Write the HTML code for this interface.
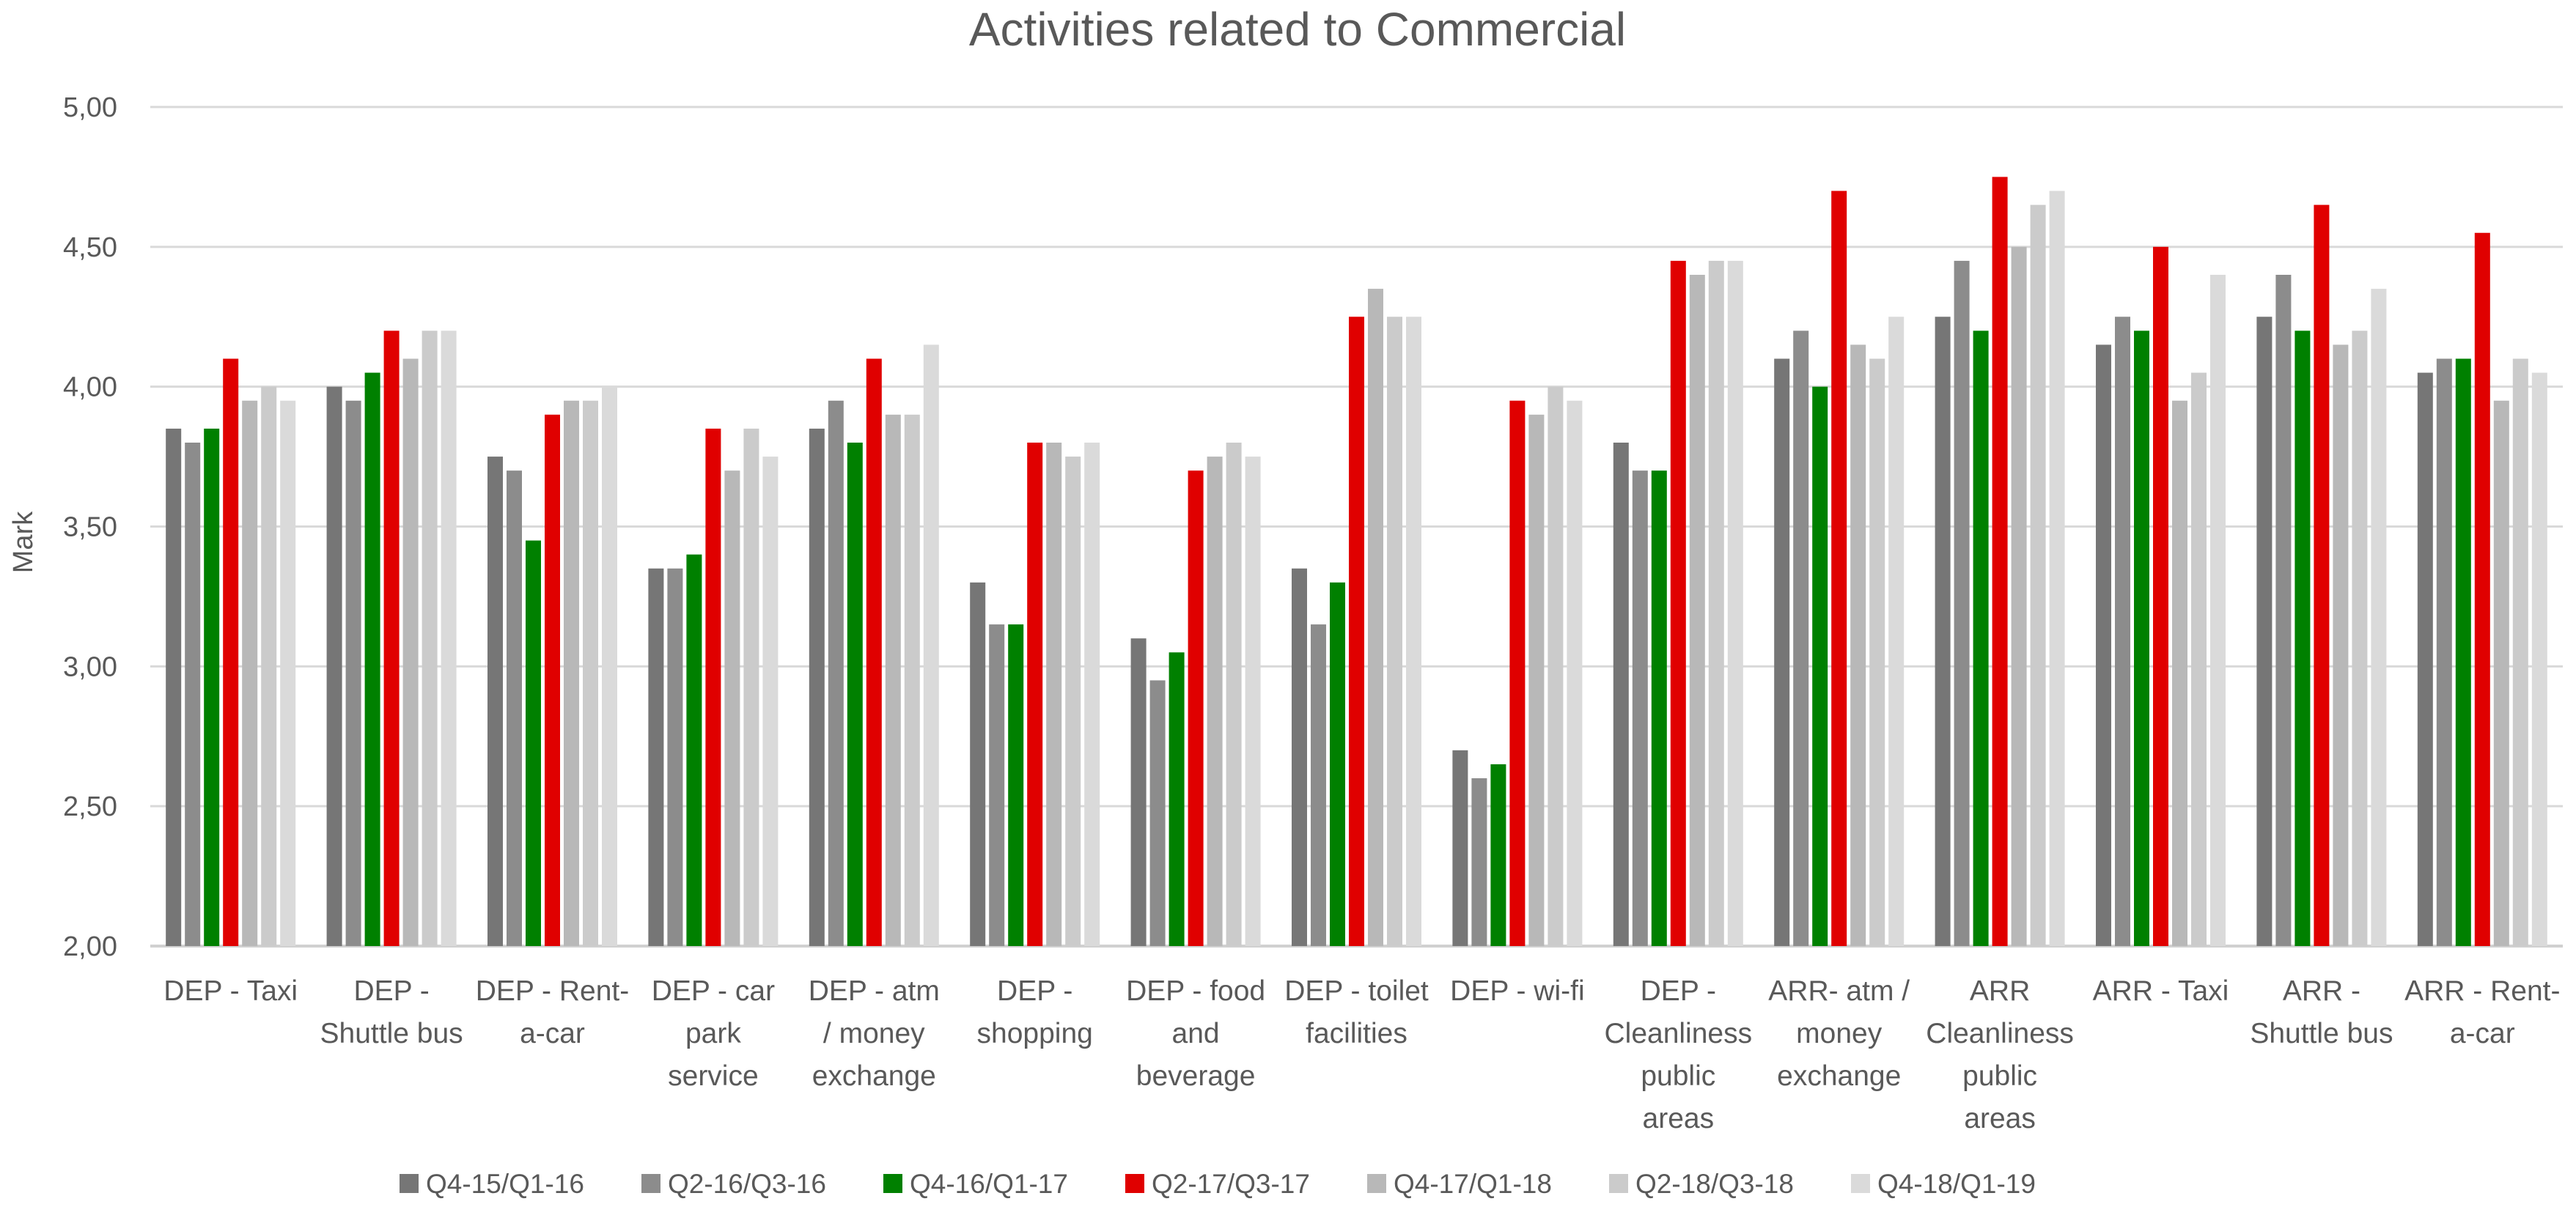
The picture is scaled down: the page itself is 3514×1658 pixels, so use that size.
<!DOCTYPE html>
<html><head><meta charset="utf-8">
<style>
html,body{margin:0;padding:0;background:#fff;}
svg{display:block;font-family:"Liberation Sans Narrow","Liberation Sans",sans-serif;}
</style></head>
<body>
<svg id="chart" width="3514" height="1658" viewBox="0 0 3514 1658" xmlns="http://www.w3.org/2000/svg">
<rect width="3514" height="1658" fill="#fff"/>
<text x="1770" y="62" font-size="64" fill="#595959" text-anchor="middle">Activities related to Commercial</text>
<text transform="translate(44,740) rotate(-90)" font-size="38" fill="#595959" text-anchor="middle">Mark</text>
<g id="grid"></g><g id="bars"></g><g id="xlabels"></g><g id="legend"></g>
</svg>
<script>
const categories = [
 ["DEP - Taxi"],["DEP -","Shuttle bus"],["DEP - Rent-","a-car"],["DEP - car","park","service"],
 ["DEP - atm","/ money","exchange"],["DEP -","shopping"],["DEP - food","and","beverage"],
 ["DEP - toilet","facilities"],["DEP -  wi-fi"],["DEP -","Cleanliness","public","areas"],
 ["ARR- atm  /","money","exchange"],["ARR","Cleanliness","public","areas"],["ARR - Taxi"],
 ["ARR -","Shuttle bus"],["ARR - Rent-","a-car"]
];
const seriesNames = ["Q4-15/Q1-16","Q2-16/Q3-16","Q4-16/Q1-17","Q2-17/Q3-17","Q4-17/Q1-18","Q2-18/Q3-18","Q4-18/Q1-19"];
const seriesColors = ["#767676","#8c8c8c","#008000","#e00000","#b8b8b8","#cbcbcb","#dadada"];
const s1 = [3.85,4.00,3.75,3.35,3.85,3.30,3.10,3.35,2.70,3.80,4.10,4.25,4.15,4.25,4.05];
const s2 = [3.80,3.95,3.70,3.35,3.95,3.15,2.95,3.15,2.60,3.70,4.20,4.45,4.25,4.40,4.10];
const s3 = [3.85,4.05,3.45,3.40,3.80,3.15,3.05,3.30,2.65,3.70,4.00,4.20,4.20,4.20,4.10];
const s4 = [4.10,4.20,3.90,3.85,4.10,3.80,3.70,4.25,3.95,4.45,4.70,4.75,4.50,4.65,4.55];
const s5 = [3.95,4.10,3.95,3.70,3.90,3.80,3.75,4.35,3.90,4.40,4.15,4.50,3.95,4.15,3.95];
const s6 = [4.00,4.20,3.95,3.85,3.90,3.75,3.80,4.25,4.00,4.45,4.10,4.65,4.05,4.20,4.10];
const s7 = [3.95,4.20,4.00,3.75,4.15,3.80,3.75,4.25,3.95,4.45,4.25,4.70,4.40,4.35,4.05];
const yTicks = [2.00,2.50,3.00,3.50,4.00,4.50,5.00];
const series = [s1,s2,s3,s4,s5,s6,s7];

const NS="http://www.w3.org/2000/svg";
const L=205,R=3496,T=146,B=1291,yMin=2,yMax=5;
const y=v=>B-(v-yMin)/(yMax-yMin)*(B-T);
const band=(R-L)/categories.length;
const x=i=>L+band*i;
function mk(tag,attrs,parent){const e=document.createElementNS(NS,tag);for(const k in attrs)e.setAttribute(k,attrs[k]);parent.appendChild(e);return e;}
const grid=document.getElementById('grid');
yTicks.forEach(t=>{
 const ln=mk('line',{x1:L,x2:R,y1:y(t),y2:y(t),stroke:t===yMin?'#d0d0d0':'#d9d9d9','stroke-width':t===yMin?4:3},grid);
 
 
 const tx=mk('text',{x:L-45,y:y(t)+13,'font-size':38,fill:'#595959','text-anchor':'end'},grid);
 tx.textContent=t.toFixed(2).replace('.',',');
 
 
});
const bars=document.getElementById('bars');
const pitch=26,bw=21,groupW=pitch*6+bw;
categories.forEach((c,i)=>{
 const x0=x(i)+(band-groupW)/2;
 series.forEach((s,j)=>{
  const r=mk('rect',{x:x0+j*pitch,y:y(s[i]),width:bw,height:B-y(s[i]),fill:seriesColors[j]},bars);
  
  
 });
 const g=mk('text',{'font-size':39,fill:'#595959','text-anchor':'middle'},document.getElementById('xlabels'));
 
 
 c.forEach((line,k)=>{const ts=mk('tspan',{x:x(i)+band/2,y:1365+k*58},g);ts.textContent=line;});
});
const leg=document.getElementById('legend');
seriesNames.forEach((n,j)=>{
 const lx=545+j*330;
 const sq=mk('rect',{x:lx,y:1602,width:26,height:26,fill:seriesColors[j]},leg);
 
 
 const t=mk('text',{x:lx+36,y:1628,'font-size':37,fill:'#595959'},leg);
 t.textContent=n;
 
 
});
</script>
</body></html>
